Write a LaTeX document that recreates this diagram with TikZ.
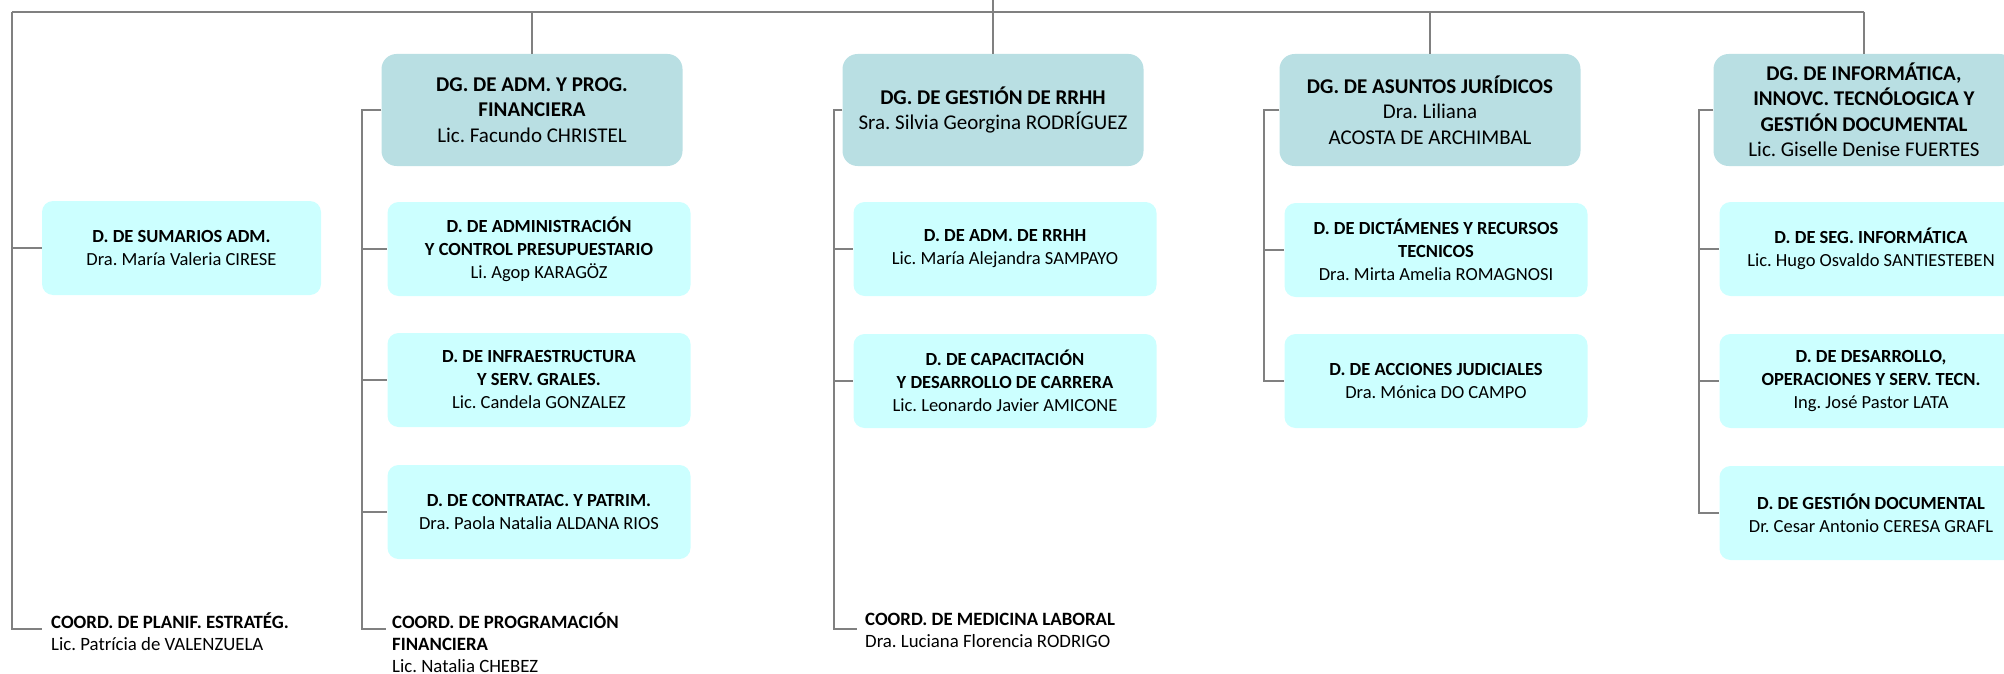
\documentclass[tikz,border=0pt]{standalone}
\usepackage{fontspec}
\setmainfont{Carlito}
\usetikzlibrary{positioning}
\definecolor{dgcol}{RGB}{185,223,227}
\definecolor{dcol}{RGB}{204,255,255}
\definecolor{lin}{RGB}{128,128,128}
\frenchspacing
\tikzset{
	dgbox/.style={fill=dgcol, rounded corners=15pt, minimum width=301pt, minimum height=112pt,
		align=center, inner sep=0pt, font=\fontsize{21}{25.5}\selectfont},
	dbox/.style={fill=dcol, rounded corners=11pt, minimum width=303pt, minimum height=94pt,
		align=center, inner sep=0pt, font=\fontsize{18.5}{23}\selectfont},
	coordtxt/.style={align=left, inner sep=0pt, anchor=north west, font=\fontsize{18.8}{22}\selectfont},
	conn/.style={draw=lin, line width=1.8pt}
}
\begin{document}
\begin{tikzpicture}[x=1pt,y=-1pt]
	\useasboundingbox (0,0) rectangle (2004,674);
	\clip (0,0) rectangle (2004,674);
	
	%------------direcciones generales
	\node[dgbox] (dgadm) at (532,110) {\textbf{DG. DE ADM. Y PROG.}\\\textbf{FINANCIERA}\\Lic. Facundo CHRISTEL};
	\node[dgbox] (dgrrhh) at (993,110) {\textbf{DG. DE GESTIÓN DE RRHH}\\Sra. Silvia Georgina RODRÍGUEZ};
	\node[dgbox] (dgjur) at (1430,110) {\textbf{DG. DE ASUNTOS JURÍDICOS}\\Dra. Liliana\\ACOSTA DE ARCHIMBAL};
	\node[dgbox] (dginf) at (1864,110) {\textbf{DG. DE INFORMÁTICA,}\\\textbf{INNOVC. TECNÓLOGICA Y}\\\textbf{GESTIÓN DOCUMENTAL}\\Lic. Giselle Denise FUERTES};
	
	%------------direcciones
	\node[dbox, minimum width=279pt] (sumarios) at (181.5,248) {\textbf{D. DE SUMARIOS ADM.}\\Dra. María Valeria CIRESE};
	\node[dbox] (dadmin) at (539,249) {\textbf{D. DE ADMINISTRACIÓN}\\\textbf{Y CONTROL PRESUPUESTARIO}\\Li. Agop KARAGÖZ};
	\node[dbox] (dinfra) at (539,380) {\textbf{D. DE INFRAESTRUCTURA}\\\textbf{Y SERV. GRALES.}\\Lic. Candela GONZALEZ};
	\node[dbox] (dcontr) at (539,512) {\textbf{D. DE CONTRATAC. Y PATRIM.}\\Dra. Paola Natalia ALDANA RIOS};
	\node[dbox] (drrhh) at (1005,249) {\textbf{D. DE ADM. DE RRHH}\\Lic. María Alejandra SAMPAYO};
	\node[dbox] (dcapac) at (1005,381) {\textbf{D. DE CAPACITACIÓN}\\\textbf{Y DESARROLLO DE CARRERA}\\Lic. Leonardo Javier AMICONE};
	\node[dbox] (ddict) at (1436,250) {\textbf{D. DE DICTÁMENES Y RECURSOS}\\\textbf{TECNICOS}\\Dra. Mirta Amelia ROMAGNOSI};
	\node[dbox] (dacc) at (1436,381) {\textbf{D. DE ACCIONES JUDICIALES}\\Dra. Mónica DO CAMPO};
	\node[dbox] (dseg) at (1871,249) {\textbf{D. DE SEG. INFORMÁTICA}\\Lic. Hugo Osvaldo SANTIESTEBEN};
	\node[dbox] (ddesa) at (1871,381) {\textbf{D. DE DESARROLLO,}\\\textbf{OPERACIONES Y SERV. TECN.}\\Ing. José Pastor LATA};
	\node[dbox] (dgdoc) at (1871,513) {\textbf{D. DE GESTIÓN DOCUMENTAL}\\Dr. Cesar Antonio CERESA GRAFL};
	
	%------------linea superior
	\coordinate (top) at (993,0);
	\coordinate (busL) at (12,12);
	\coordinate (busR) at (dginf.north |- busL);
	\draw[conn] (busL) -- (busR);
	\draw[conn] (top) -- (dgrrhh.north);
	\draw[conn] (busL -| dgadm.north) -- (dgadm.north);
	\draw[conn] (busL -| dgjur.north) -- (dgjur.north);
	\draw[conn] (busR) -- (dginf.north);
	
	%------------rama izquierda
	\coordinate (cplanA) at (42,629);
	\draw[conn] (busL) |- (sumarios.west);
	\draw[conn] (busL) |- (cplanA);
	\node[coordtxt] (cplan) at ([shift={(9,-16)}]cplanA) {\textbf{COORD. DE PLANIF. ESTRATÉG.}\\Lic. Patrícia de VALENZUELA};
	
	%------------rama adm
	\coordinate (admA) at ([xshift=-19pt]dgadm.west);
	\coordinate (cprogA) at (386,629);
	\draw[conn] (dgadm.west) -- (admA) |- (cprogA);
	\foreach \n in {dadmin,dinfra,dcontr}
		\draw[conn] (admA |- \n.west) -- (\n.west);
	\node[coordtxt] (cprog) at ([shift={(6,-16)}]cprogA) {\textbf{COORD. DE PROGRAMACIÓN}\\\textbf{FINANCIERA}\\Lic. Natalia CHEBEZ};
	
	%------------rama rrhh
	\coordinate (rrhhA) at ([xshift=-8pt]dgrrhh.west);
	\coordinate (cmedA) at (857,629);
	\draw[conn] (dgrrhh.west) -- (rrhhA) |- (cmedA);
	\foreach \n in {drrhh,dcapac}
		\draw[conn] (rrhhA |- \n.west) -- (\n.west);
	\node[coordtxt] (cmed) at ([shift={(8,-16)}]cmedA) {\textbf{COORD. DE MEDICINA LABORAL}\\Dra. Luciana Florencia RODRIGO};
	
	%------------rama juridicos
	\coordinate (jurA) at ([xshift=-15pt]dgjur.west);
	\draw[conn] (dgjur.west) -- (jurA) |- (dacc.west);
	\draw[conn] (jurA |- ddict.west) -- (ddict.west);
	
	%------------rama informatica
	\coordinate (infA) at ([xshift=-14pt]dginf.west);
	\draw[conn] (dginf.west) -- (infA) |- (dgdoc.west);
	\foreach \n in {dseg,ddesa}
		\draw[conn] (infA |- \n.west) -- (\n.west);
\end{tikzpicture}
\end{document}
